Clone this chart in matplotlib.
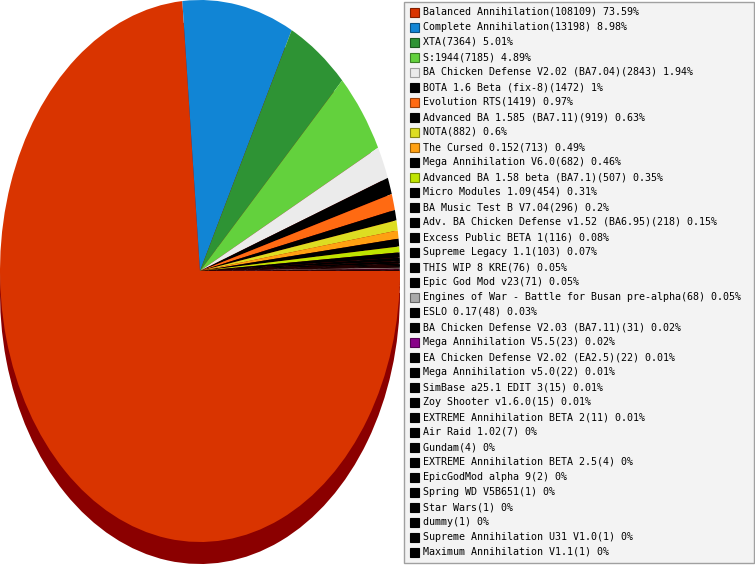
import numpy as np
import matplotlib
matplotlib.use("Agg")
import matplotlib.pyplot as plt
from matplotlib.patches import Rectangle
from matplotlib.colors import to_rgb

# dane
mods = [
    "Balanced Annihilation", "Complete Annihilation", "XTA", "S:1944",
    "BA Chicken Defense V2.02 (BA7.04)", "BOTA 1.6 Beta (fix-8)", "Evolution RTS",
    "Advanced BA 1.585 (BA7.11)", "NOTA", "The Cursed 0.152", "Mega Annihilation V6.0",
    "Advanced BA 1.58 beta (BA7.1)", "Micro Modules 1.09", "BA Music Test B V7.04",
    "Adv. BA Chicken Defense v1.52 (BA6.95)", "Excess Public BETA 1", "Supreme Legacy 1.1",
    "THIS WIP 8 KRE", "Epic God Mod v23", "Engines of War - Battle for Busan pre-alpha",
    "ESLO 0.17", "BA Chicken Defense V2.03 (BA7.11)", "Mega Annihilation V5.5",
    "EA Chicken Defense V2.02 (EA2.5)", "Mega Annihilation v5.0", "SimBase a25.1 EDIT 3",
    "Zoy Shooter v1.6.0", "EXTREME Annihilation BETA 2", "Air Raid 1.02", "Gundam",
    "EXTREME Annihilation BETA 2.5", "EpicGodMod alpha 9", "Spring WD V5B651", "Star Wars",
    "dummy", "Supreme Annihilation U31 V1.0", "Maximum Annihilation V1.1",
]
counts = [
    108109, 13198, 7364, 7185, 2843, 1472, 1419, 919, 882, 713, 682, 507, 454, 296,
    218, 116, 103, 76, 71, 68, 48, 31, 23, 22, 22, 15, 15, 11, 7, 4, 4, 2, 1, 1, 1, 1, 1,
]
colors = [
    "#D93400", "#1185D5", "#2E9334", "#63D13D", "#EBEBEB", "#000000", "#FF6A12",
    "#000000", "#DDDD22", "#FFA012", "#000000", "#BFE400", "#000000", "#000000",
    "#000000", "#000000", "#000000", "#000000", "#000000", "#AAAAAA", "#000000",
    "#000000", "#880088", "#000000", "#000000", "#000000", "#000000", "#000000",
    "#000000", "#000000", "#000000", "#000000", "#000000", "#000000", "#000000",
    "#000000", "#000000",
]

W, H = 755, 565
fig = plt.figure(figsize=(W / 100, H / 100), dpi=100)

# pie - rozciagniety w pionie, srodek (200, 271), rx=200, ry=271
ax = fig.add_axes([0, 0, 400 / W, 1])
ry = 271
off = 22 / ry
ax.pie(counts, colors=["#8B0000"] * len(counts), startangle=0, counterclock=False,
       center=(0, -off), radius=1, wedgeprops=dict(linewidth=0))
ax.pie(counts, colors=colors, startangle=0, counterclock=False,
       center=(0, 0), radius=1, wedgeprops=dict(linewidth=0))
ax.set_aspect("auto")
ax.set_xlim(-1, 1)
ax.set_ylim(1 - H / ry, 1)
ax.axis("off")

# legenda
lg = fig.add_axes([0, 0, 1, 1])
lg.set_xlim(0, W)
lg.set_ylim(H, 0)
lg.axis("off")
lg.add_patch(Rectangle((404, 2), 350, 561, facecolor="#F3F3F3", edgecolor="#A0A0A0", lw=1))

total = sum(counts)
for i, (name, c, col) in enumerate(zip(mods, counts, colors)):
    y = 12 + 15 * i
    pct = round(c / total * 100, 2)
    edge = tuple(v * 0.6 for v in to_rgb(col))
    if col == "#EBEBEB":
        edge = "#A0A0A0"
    lg.add_patch(Rectangle((410, y - 4.5), 9, 9, facecolor=col, edgecolor=edge, lw=0.8))
    lg.text(423, y, f"{name}({c}) {pct:g}%", fontsize=7.2, family="DejaVu Sans Mono",
            va="center", ha="left", color="black")

fig.savefig("out.png", dpi=100)
